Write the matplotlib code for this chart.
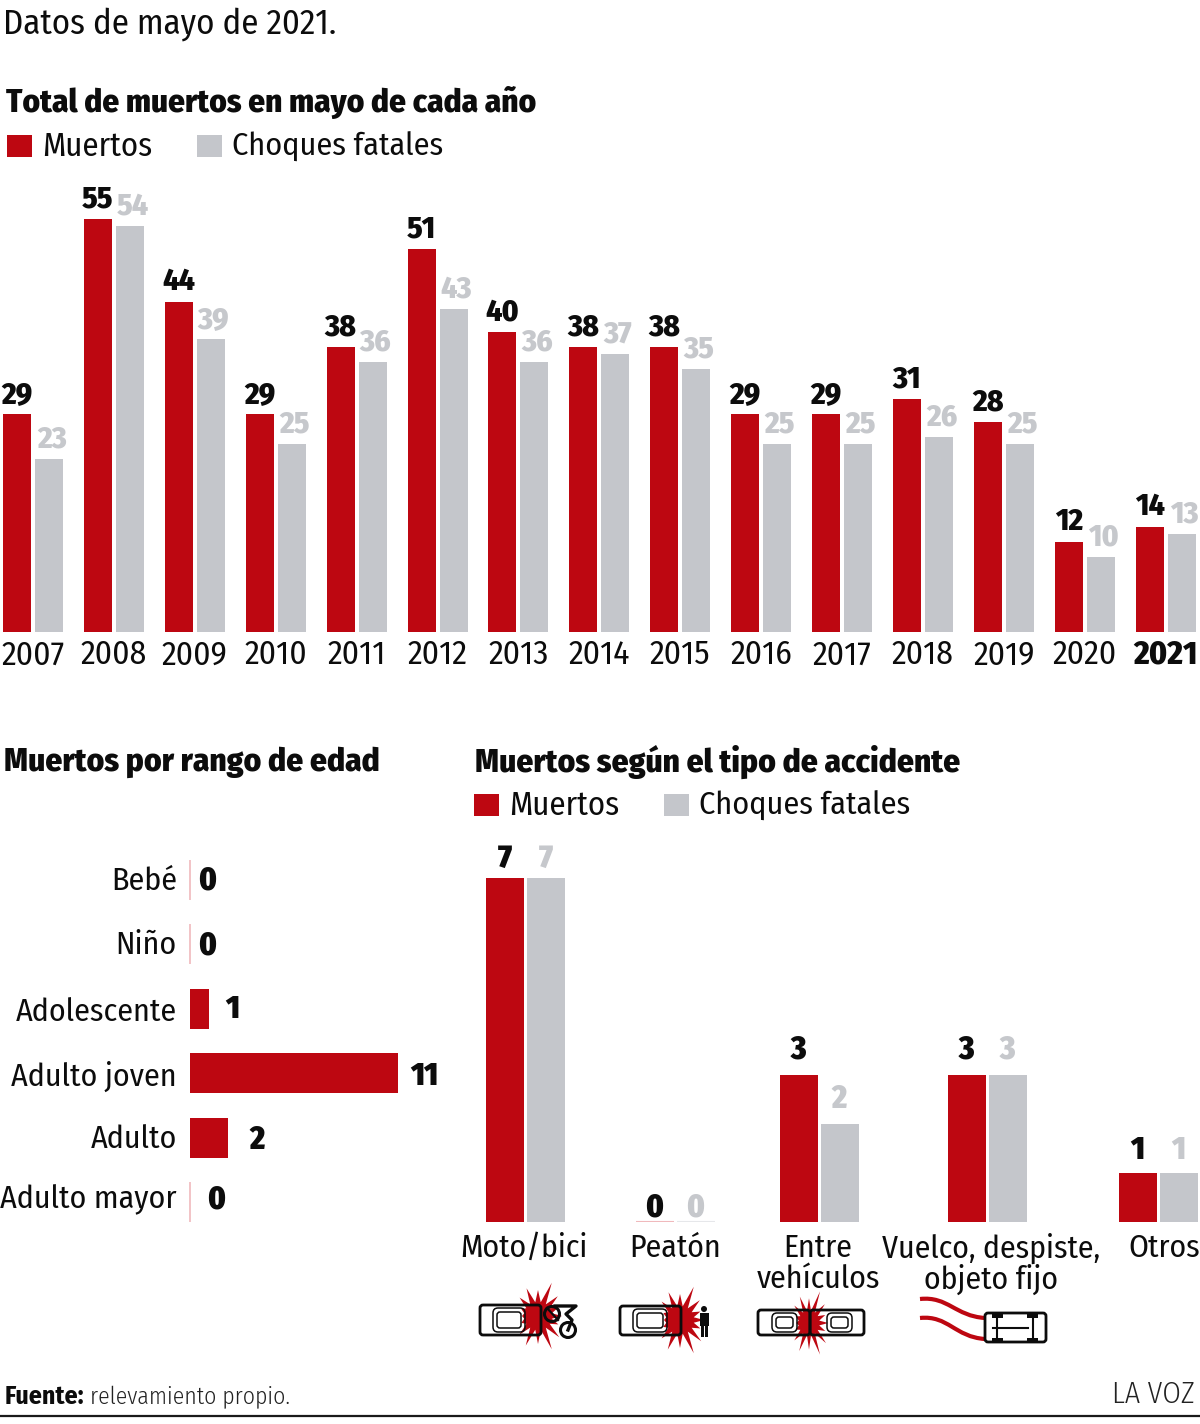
import numpy as np
import matplotlib
matplotlib.use('Agg')
import matplotlib.pyplot as plt
from matplotlib.patches import FancyBboxPatch, Polygon, Circle, Rectangle, PathPatch
from matplotlib.path import Path

W, H = 1200, 1424
RED = '#bd0711'
GRAY = '#c4c6cb'
GRAY_TXT = '#c6c8cc'
INK = '#0c0c0c'
FONT = ['Fira Sans Condensed', 'Roboto Condensed', 'Archivo Narrow', 'Lato', 'Liberation Sans']

# yearly totals
years = ['2007', '2008', '2009', '2010', '2011', '2012', '2013', '2014',
         '2015', '2016', '2017', '2018', '2019', '2020', '2021']
muertos = [29, 55, 44, 29, 38, 51, 40, 38, 38, 29, 29, 31, 28, 12, 14]
choques = [23, 54, 39, 25, 36, 43, 36, 37, 35, 25, 25, 26, 25, 10, 13]

# age ranges
edades = ['Bebé', 'Niño', 'Adolescente', 'Adulto joven', 'Adulto', 'Adulto mayor']
edad_muertos = [0, 0, 1, 11, 2, 0]

# accident types
tipos = ['Moto/bici', 'Peatón', 'Entre\nvehículos', 'Vuelco, despiste,\nobjeto fijo', 'Otros']
tipo_muertos = [7, 0, 3, 3, 1]
tipo_choques = [7, 0, 2, 3, 1]

plt.rcParams['font.family'] = FONT
fig = plt.figure(figsize=(W / 100, H / 100), dpi=100, facecolor='white')


def px_axes(x0, y0, x1, y1):
    ax = fig.add_axes([x0 / W, 1 - y1 / H, (x1 - x0) / W, (y1 - y0) / H])
    ax.axis('off')
    return ax


# overlay in pixel units for text and pictograms
ov = px_axes(0, 0, W, H)
ov.set_xlim(0, W)
ov.set_ylim(H, 0)
ov.set_zorder(5)
ov.patch.set_alpha(0)


def label(x, y, s, size=24, ha='left', weight='normal', color=INK):
    return ov.text(x, y, s, fontsize=size, ha=ha, va='center', color=color, fontweight=weight)


def legend(x_red, x_gray, y):
    ov.add_patch(Rectangle((x_red, y - 11), 25, 22, color=RED, lw=0))
    ov.add_patch(Rectangle((x_gray, y - 11), 25, 22, color=GRAY, lw=0))
    label(x_red + 35, y + 1, 'Muertos', size=23.6)
    label(x_gray + 35, y + 1, 'Choques fatales', size=23.1)


label(3, 24, 'Datos de mayo de 2021.', size=25)
label(6, 103, 'Total de muertos en mayo de cada año', size=23.9, weight=800)
legend(7, 197, 146)
label(4, 762, 'Muertos por rango de edad', size=24, weight=800)
label(475, 762, 'Muertos según el tipo de accidente', size=24, weight=800)
legend(474, 664, 805)

# top chart: one x unit is a year group, one y unit is a death
top = px_axes(0, 180, W, 632)
step = 80.9
top.set_xlim(-33 / step, (W - 33) / step)
top.set_ylim(0, 452 / 7.51)
xs = np.arange(len(years))
bw, off = 28 / step, 16 / step
top.bar(xs - off, muertos, bw, color=RED, lw=0)
top.bar(xs + off, choques, bw, color=GRAY, lw=0)
for i, yr in enumerate(years):
    px = 33 + i * step
    label(px, 655, yr, size=24, ha='center', weight=800 if yr == '2021' else 'normal')
    top.annotate(str(muertos[i]), (xs[i] - off, muertos[i]), xytext=(0, 14.2),
                 textcoords='offset points', ha='center', va='center', fontsize=22.5,
                 fontweight=800, color=INK)
    top.annotate(str(choques[i]), (xs[i] + off, choques[i]), xytext=(2, 14.2),
                 textcoords='offset points', ha='center', va='center', fontsize=22.5,
                 fontweight=800, color=GRAY_TXT)

# age chart, rows are 64.4 px apart
age = px_axes(190, 850, 450, 1240)
age.set_xlim(0, 260 / 18.9)
age.set_ylim(390, 0)
rows = [30 + 64.4 * i for i in range(len(edades))]
age.barh(rows, edad_muertos, 40, color=RED, lw=0)
label_gap = [17, 17, 23, 26, 29, 26]
name_dy = [1, 1, 3, 3, 2, -2]
value_dy = [1, 1, 1, 3, 3, -2]
for i, name in enumerate(edades):
    label(177, 850 + rows[i] + name_dy[i], name, ha='right', size=23)
    if edad_muertos[i] == 0:
        age.plot([0, 0], [rows[i] - 20, rows[i] + 20], color='#f0b9bc', lw=1.2, solid_capstyle='butt',
                 clip_on=False)
    age.annotate(str(edad_muertos[i]), (edad_muertos[i], rows[i]),
                 xytext=(label_gap[i] * 0.72, -value_dy[i] * 0.72),
                 textcoords='offset points', ha='center', va='center', fontsize=23,
                 fontweight=900, color=INK)

# accident chart, x in pixels because the groups are not evenly spaced
acc = px_axes(470, 830, W, 1222)
acc.set_xlim(470, W)
acc.set_ylim(0, 392 / 49.1)
centers = np.array([525.5, 675, 819, 987, 1158])
aw, aoff = 38, 20.5
acc.bar(centers - aoff, tipo_muertos, aw, color=RED, lw=0)
acc.bar(centers + aoff, tipo_choques, aw, color=GRAY, lw=0)
name_x = [524, 675, 818, 991, 1164]
val_gap = [20.5, 14.5, 24.5, 24.5, 22.5]
for i, name in enumerate(tipos):
    if tipo_muertos[i] == 0:
        acc.plot([centers[i] - aoff - 19, centers[i] - aoff + 19], [0, 0], color='#f0b9bc', lw=1.5,
                 solid_capstyle='butt')
        acc.plot([centers[i] + aoff - 19, centers[i] + aoff + 19], [0, 0], color='#e6e7ea', lw=1.5,
                 solid_capstyle='butt')
    acc.annotate(str(tipo_muertos[i]), (centers[i] - aoff, tipo_muertos[i]), xytext=(0, val_gap[i] * 0.72),
                 textcoords='offset points', ha='center', va='center', fontsize=23,
                 fontweight=900, color=INK)
    acc.annotate(str(tipo_choques[i]), (centers[i] + aoff, tipo_choques[i]), xytext=(0, val_gap[i] * 0.72),
                 textcoords='offset points', ha='center', va='center', fontsize=23,
                 fontweight=900, color=GRAY_TXT)
    for j, line in enumerate(name.split('\n')):
        label(name_x[i], 1248 + 31 * j, line, ha='center', size=22.8)


# pictograms
spikes = [24, 22, 30, 36, 28, 32, 26, 18, 16, 18, 26, 30, 26, 36, 28, 22]


def burst(cx, cy, sx=1.0, sy=1.0, inner=14):
    ang = np.deg2rad(np.arange(0, 360, 22.5))
    mid = ang + np.deg2rad(11.25)
    r = np.array(spikes, dtype=float)
    tips = np.c_[cx + r * np.cos(ang) * sx, cy + r * np.sin(ang) * sy]
    base = np.c_[cx + inner * np.cos(mid) * sx, cy + inner * np.sin(mid) * sy]
    pts = np.empty((32, 2))
    pts[0::2] = tips
    pts[1::2] = base
    ov.add_patch(Polygon(pts, closed=True, color=RED, lw=0, zorder=2))


def box(x0, y0, x1, y1, lw, rnd=3, fc='none'):
    ov.add_patch(FancyBboxPatch((x0 + rnd, y0 + rnd), x1 - x0 - 2 * rnd, y1 - y0 - 2 * rnd,
                                boxstyle='round,pad=%s,rounding_size=%s' % (rnd, rnd),
                                fc=fc, ec=INK, lw=lw, zorder=3))


def car(x0, y0, x1, y1, win_x0, win_x1):
    box(x0, y0, x1, y1, 2)
    box(win_x0, y0 + 3, win_x1, y1 - 3, 1.1, rnd=5)
    box(win_x0 + 4, y0 + 7, win_x1 - 4, y1 - 7, 1.1, rnd=3)


# moto / bici
burst(538, 1316)
car(480, 1305, 541, 1335, 493, 525)
ov.add_patch(Circle((568, 1330), 7.5, fc='none', ec=INK, lw=2.2, zorder=4))
ov.add_patch(Circle((552, 1314), 7.5, fc='none', ec=INK, lw=2.2, zorder=4))
ov.plot([547, 558], [1308, 1320], color=INK, lw=1.6, zorder=4)
ov.plot([555, 576, 566, 572, 568], [1306, 1306, 1314, 1320, 1330], color=INK, lw=2.4, zorder=4)

# peaton
burst(680, 1320)
car(620, 1306, 681, 1335, 633, 667)
ov.add_patch(Circle((704, 1309), 3, color=INK, lw=0, zorder=4))
ov.add_patch(Rectangle((700, 1313), 9, 13, color=INK, lw=0, zorder=4))
ov.add_patch(Rectangle((701, 1326), 3, 11, color=INK, lw=0, zorder=4))
ov.add_patch(Rectangle((705, 1326), 3, 11, color=INK, lw=0, zorder=4))

# entre vehiculos
burst(809, 1323, sx=0.8, sy=0.95, inner=13)
car(758, 1310, 810, 1335, 772, 797)
car(810, 1310, 864, 1335, 827, 852)

# vuelco: skid marks behind the car
for y_a, y_b in [(1299, 1318), (1318, 1339)]:
    verts = [(920, y_a), (948, y_a - 3), (955, y_b - 2), (985, y_b)]
    codes = [Path.MOVETO, Path.CURVE4, Path.CURVE4, Path.CURVE4]
    ov.add_patch(PathPatch(Path(verts, codes), fc='none', ec=RED, lw=3))
box(985, 1313, 1046, 1342, 2, fc='white')
for wx in (992, 1027):
    for wy in (1313, 1338):
        ov.add_patch(Rectangle((wx, wy), 11, 4.5, color=INK, lw=0, zorder=4))
ov.plot([997, 997], [1317, 1338], color=INK, lw=1.5, zorder=4)
ov.plot([1033, 1033], [1317, 1338], color=INK, lw=1.5, zorder=4)
ov.plot([993, 1028], [1328, 1328], color=INK, lw=1.5, zorder=4)

# footer
label(5, 1397, 'Fuente:', size=18.6, weight='bold')
label(90, 1397, 'relevamiento propio.', size=17, weight=300, color='#222222')
label(1195, 1395, 'LA VOZ', size=21.5, ha='right', weight=300, color='#222222')
ov.plot([0, W], [1416, 1416], color='#1a1a1a', lw=1.6, clip_on=False)

fig.savefig('out.png', dpi=100)
